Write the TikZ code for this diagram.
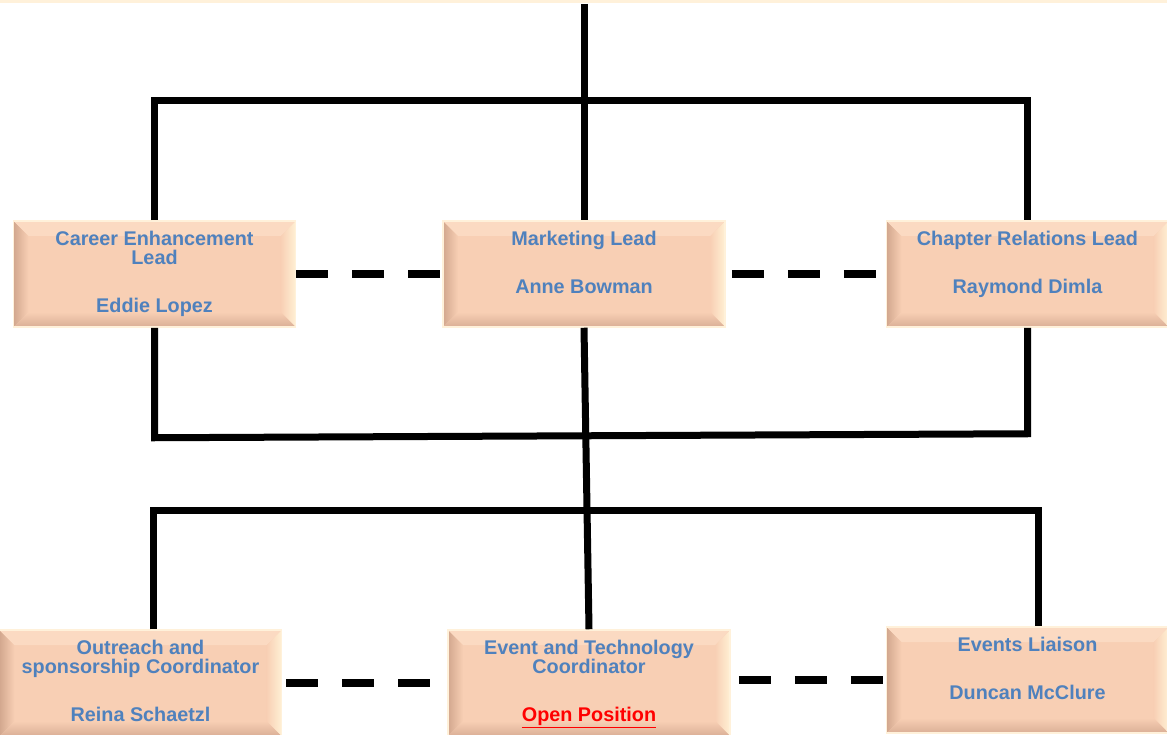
\documentclass[tikz,border=0pt]{standalone}
\usepackage{fontspec}
\setmainfont{Liberation Sans}
\usepackage{tikz}
\usetikzlibrary{positioning}

\definecolor{boxface}{RGB}{248,207,180}
\definecolor{boxrim}{RGB}{255,241,218}
\definecolor{bevdark}{RGB}{210,167,142}
\definecolor{bevlight}{RGB}{255,240,212}
\definecolor{bevtop}{RGB}{251,218,194}
\definecolor{bevbot}{RGB}{218,175,150}
\definecolor{titleblue}{RGB}{79,129,189}

\newcommand{\roletext}[2]{\parbox[c][86pt][t]{266pt}{\centering\fontsize{19.8}{19.5}\selectfont\bfseries\color{titleblue}#1\\[28.5pt]#2}}

\tikzset{bevel/.style={path picture={
	\path (path picture bounding box.north west) coordinate (bnw)
		(path picture bounding box.north east) coordinate (bne)
		(path picture bounding box.south west) coordinate (bsw)
		(path picture bounding box.south east) coordinate (bse);
	\shade[left color=bevdark, right color=boxface] (bsw) -- (bnw) -- ([shift={(15pt,-15pt)}]bnw) -- ([shift={(15pt,15pt)}]bsw) -- cycle;
	\shade[left color=boxface, right color=bevlight] (bse) -- (bne) -- ([shift={(-15pt,-15pt)}]bne) -- ([shift={(-15pt,15pt)}]bse) -- cycle;
	\fill[bevtop] (bnw) -- (bne) -- ([shift={(-15pt,-15pt)}]bne) -- ([shift={(15pt,-15pt)}]bnw) -- cycle;
	\shade[top color=boxface, bottom color=bevbot] (bsw) -- (bse) -- ([shift={(-15pt,15pt)}]bse) -- ([shift={(15pt,15pt)}]bsw) -- cycle;
}}}

\begin{document}
\begin{tikzpicture}[x=1pt, y=-1pt]
	\tikzstyle{role}=[rectangle, fill=boxface, draw=boxrim, line width=1.5pt, inner xsep=8pt, inner ysep=10pt, bevel]
	\tikzstyle{link}=[line width=7pt]
	\tikzstyle{peer}=[line width=8pt, dash pattern=on 32pt off 24pt]
	\useasboundingbox (0,0) rectangle (1167,735);
	\fill[boxrim] (0,0) rectangle (1167,3);
	% leads
	\node[role] (market) at (584,274) {\roletext{Marketing Lead}{Anne Bowman}};
	\node[role] (career) [left=146pt of market] {\roletext{Career Enhancement\\Lead}{Eddie Lopez}};
	\node[role] (chapter) [right=160pt of market] {\roletext{Chapter Relations Lead}{Raymond Dimla}};
	% coordinators
	\node[role] (event) at (589,683) {\roletext{Event and Technology\\Coordinator}{\color{red}\underline{Open Position}}};
	\node[role] (outreach) [left=165pt of event] {\roletext{Outreach and\\sponsorship Coordinator}{Reina Schaetzl}};
	\node[role] (liaison) [right=155pt of event, yshift=3pt] {\roletext{Events Liaison}{Duncan McClure}};
	\coordinate (top) at (market.north |- 0,4);
	\coordinate (joinr) at ([yshift=-106pt]chapter.south);
	\draw[link] (top) -- (market.north);
	\draw[link] (career.north) -- ++(0,-120) -| (chapter.north);
	\draw[link] (career.south) -- ++(0,110) -- (joinr) -- (chapter.south);
	\draw[link] (market.south) -- (event.north);
	\draw[link] ([xshift=13pt]outreach.north) -- ++(0,-119) -| ([xshift=11pt]liaison.north);
	\draw[peer] (career.east) -- (market.west);
	\draw[peer] ([xshift=6pt]market.east) -- (chapter.west);
	\draw[peer] ([xshift=4pt]outreach.east) -- (event.west);
	\draw[peer] ([xshift=8pt]event.east |- liaison.west) -- (liaison.west);
\end{tikzpicture}
\end{document}
